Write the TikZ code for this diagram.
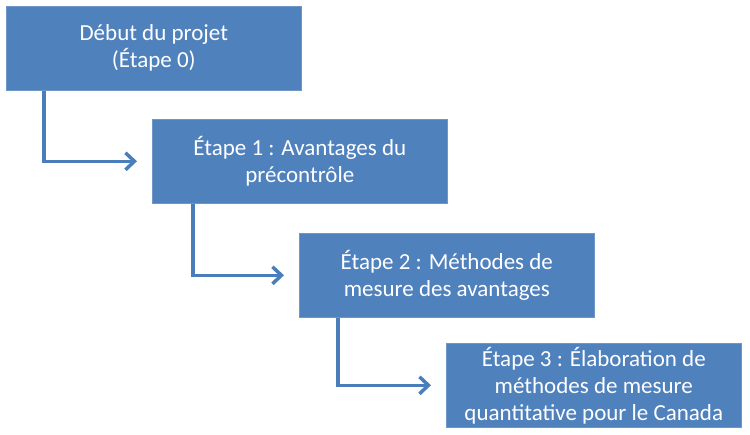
\documentclass[tikz,border=0pt]{standalone}
\usepackage{fontspec}
\setmainfont{Carlito}
\usepackage{tikz}
\usetikzlibrary{arrows.meta}

\definecolor{stepblue}{HTML}{4F81BD}
\definecolor{stepedge}{HTML}{6F96C8}
\definecolor{flowblue}{HTML}{4A7EBB}

\tikzset{
    stage/.style={draw=stepedge, line width=0.6pt, fill=stepblue, anchor=north west,
        minimum width=295pt, minimum height=84pt, inner sep=0pt,
        align=center, text=white, font=\fontsize{23}{27}\selectfont},
    flow/.style={draw=flowblue, line width=3.5pt,
        -{Straight Barb[length=9pt, width=17pt, line width=3.5pt]}, shorten >=15pt}
}

\begin{document}
\begin{tikzpicture}[x=1pt, y=-1pt]
    \useasboundingbox (0,0) rectangle (750,435);

    \node[stage] (s0) at (6,6)     {Début du projet\\(Étape 0)};
    \node[stage] (s1) at (152,119) {Étape 1 : Avantages du\\précontrôle};
    \node[stage] (s2) at (299,233) {Étape 2 : Méthodes de\\mesure des avantages};
    \node[stage] (s3) at (446,343) {Étape 3 : Élaboration de\\méthodes de mesure\\quantitative pour le Canada};

    \coordinate (d0) at ([xshift=38pt]s0.south west);
    \coordinate (d1) at ([xshift=41pt]s1.south west);
    \coordinate (d2) at ([xshift=39pt]s2.south west);
    \draw[flow] (d0) |- (s1.west);
    \draw[flow] (d1) |- (s2.west);
    \draw[flow] (d2) |- (s3.west);
\end{tikzpicture}
\end{document}
